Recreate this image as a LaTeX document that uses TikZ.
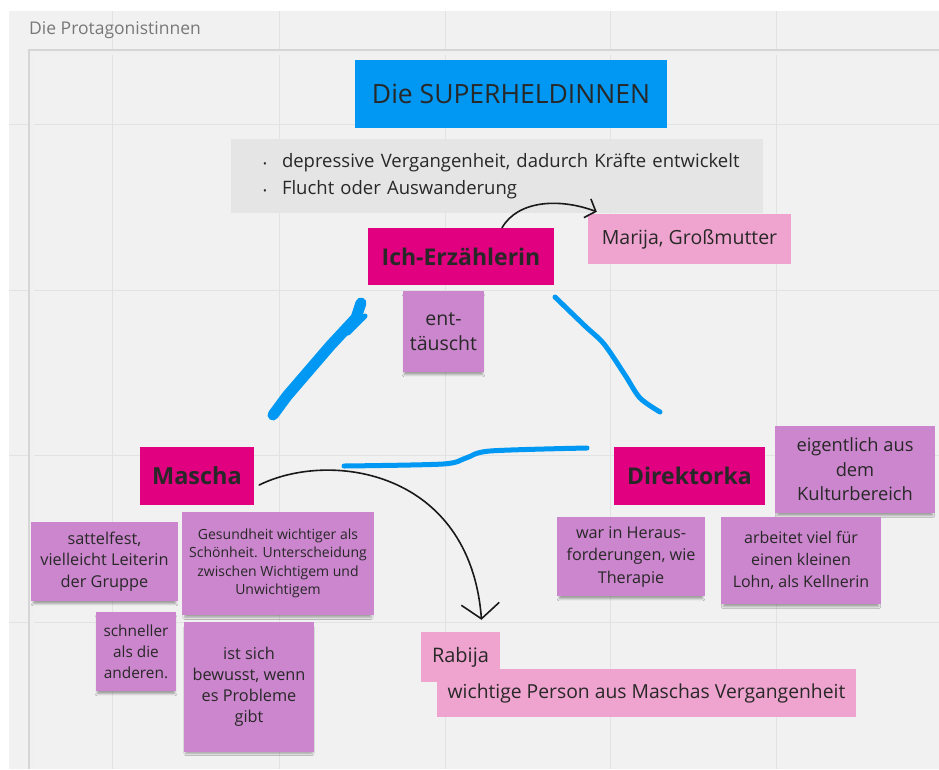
\documentclass[tikz,border=0pt]{standalone}
\usepackage{fontspec}
\setmainfont{Open Sans}
\usetikzlibrary{arrows.meta,shadows.blur}
\definecolor{bgc}{RGB}{241,241,241}
\definecolor{gridc}{RGB}{226,226,226}
\definecolor{framec}{RGB}{214,214,214}
\definecolor{titleg}{RGB}{120,120,120}
\definecolor{bluec}{RGB}{0,152,242}
\definecolor{greyboxc}{RGB}{229,229,229}
\definecolor{magc}{RGB}{225,0,127}
\definecolor{pinkc}{RGB}{238,164,206}
\definecolor{stickyc}{RGB}{203,134,205}
\definecolor{txt}{RGB}{40,40,40}
\newcommand\fsz[2]{\fontsize{#1}{#2}\selectfont}
\newcommand\bulmark{\hspace*{12pt}\makebox[19pt][l]{\fsz{10}{10}•}}
\begin{document}
\begin{tikzpicture}[x=1pt,y=-1pt,
  sticky/.style={fill=stickyc, text=txt, align=center, inner sep=0pt,
    blur shadow={shadow xshift=0pt, shadow yshift=-4pt, shadow blur steps=6, shadow opacity=35, shadow scale=0.97}},
  magbox/.style={fill=magc, text=txt, inner sep=0pt, font=\fsz{23}{23}\bfseries},
  pinkbox/.style={fill=pinkc, text=txt, inner sep=0pt},
  blueline/.style={draw=bluec, line cap=round, line join=round},
  blackarrow/.style={draw=black!90, line width=1.6pt, line cap=round}]
\useasboundingbox (0,0) rectangle (939,769);
\fill[white] (0,0) rectangle (939,769);
\fill[bgc] (9,11) rectangle (939,769);
\foreach \x in {112,279,445,610,776} \draw[gridc, line width=1pt] (\x,11) -- (\x,769);
\foreach \y in {124,290,455,622} \draw[gridc, line width=1pt] (9,\y) -- (939,\y);
% frame
\draw[black!6, line width=4pt] (32,769) -- (32,53) -- (939,53);
\draw[framec, line width=1.2pt] (29,769) -- (29,50) -- (939,50);
\node[anchor=west, text=titleg, font=\fsz{17.5}{17.5}, inner sep=0pt] (lbl) at (29,30) {Die Protagonistinnen};
% title boxes
\node[fill=bluec, text=txt, minimum width=312, minimum height=68, inner sep=0pt, font=\fsz{26.5}{26.5}] (title) at (511,94) {Die SUPERHELDINNEN};
\node[fill=greyboxc, text=txt, minimum width=532, minimum height=74, inner sep=0pt, text width=492, align=left, font=\fsz{18.5}{27}] (bul) at (497,176) {\bulmark depressive Vergangenheit, dadurch Kräfte entwickelt\\\bulmark Flucht oder Auswanderung};
% main characters
\node[magbox, minimum width=186, minimum height=57] (ich) at (461,256.5) {Ich-Erzählerin};
\node[magbox, font=\fsz{23.5}{23.5}\bfseries, minimum width=114, minimum height=58] (mascha) at (197,476) {Mascha};
\node[magbox, minimum width=151, minimum height=58] (dir) at (689.5,476) {Direktorka};
\node[pinkbox, font=\fsz{19.5}{19.5}, minimum width=203, minimum height=50] (marija) at (689.5,239) {Marija, Großmutter};
% stickies
\node[sticky, minimum width=81, minimum height=81, font=\fsz{19.5}{25}] (ent) at (443.5,331.5) {ent-\\täuscht};
\node[sticky, minimum width=160, minimum height=87, font=\fsz{18.3}{24.5}] (eig) at (855,469.5) {eigentlich aus\\dem\\Kulturbereich};
\node[sticky, minimum width=148, minimum height=79, font=\fsz{16.2}{22.5}] (war) at (631,556.5) {war in Heraus-\\forderungen, wie\\Therapie};
\node[sticky, minimum width=160, minimum height=87, font=\fsz{16}{22}] (arb) at (801,560.5) {arbeitet viel für\\einen kleinen\\Lohn, als Kellnerin};
\node[sticky, minimum width=147, minimum height=79, font=\fsz{16.3}{21.5}] (sat) at (104.5,561.5) {sattelfest,\\vielleicht Leiterin\\der Gruppe};
\node[sticky, minimum width=192, minimum height=103, font=\fsz{14}{18.3}] (ges) at (278,563.5) {Gesundheit wichtiger als\\Schönheit. Unterscheidung\\zwischen Wichtigem und\\Unwichtigem};
\node[sticky, minimum width=80, minimum height=79, font=\fsz{15.4}{21}] (sch) at (136,651.5) {schneller\\als die\\anderen.};
\node[sticky, minimum width=130, minimum height=130, font=\fsz{16.3}{21}] (ist) at (249,686.5) {ist sich\\bewusst, wenn\\es Probleme\\gibt};
% Rabija
\node[pinkbox, font=\fsz{20}{20}, minimum width=79, minimum height=50, text width=57, align=left] (rab) at (460.5,657) {Rabija};
\node[pinkbox, font=\fsz{19.3}{19.3}, minimum width=419, minimum height=48] (wich) at (646.5,693) {wichtige Person aus Maschas Vergangenheit};
% blue strokes
\draw[blueline, line width=11pt] (361,303) -- (356,318) -- (330,346) -- (287,396) -- (273,415);
\draw[blueline, line width=5pt] (365,316) -- (348,333);
\draw[blueline, line width=5pt] plot[smooth] coordinates {(555,297) (585,326) (604,344) (625,375) (640,398) (660,412)};
\draw[blueline, line width=5pt] plot[smooth] coordinates {(344,466) (443,464) (466,458) (490,451) (587,448)};
% black arrows
\draw[blackarrow, -{Straight Barb[length=9pt,width=20pt]}] ([xshift=41pt]ich.north) .. controls (518,200) and (560,198) .. ([xshift=9pt,yshift=2pt]marija.north west);
\draw[blackarrow, -{Straight Barb[length=15pt,width=38pt]}] ([xshift=5pt,yshift=-9pt]mascha.east) .. controls (330,450) and (470,470) .. ([xshift=21pt,yshift=12pt]rab.north);
\end{tikzpicture}
\end{document}
